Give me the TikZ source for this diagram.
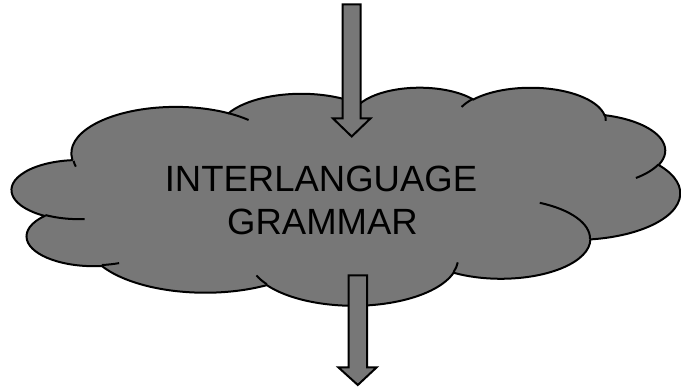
\documentclass[tikz,border=0pt]{standalone}
\usepackage{fontspec}
\setmainfont{Liberation Sans}
\definecolor{cloudgray}{RGB}{119,119,119}
% scale of the 432 x 432 cloud outline grid (units of 100) onto the drawing
\def\csx{1.546296}
\def\csy{0.504630}
\tikzset{
  outline/.style={draw=black, line width=2pt, line join=miter},
  cloudbody/.style={outline, fill=cloudgray},
  cloudfold/.style={draw=black, line width=2pt},
  blockarrow/.style={outline, fill=cloudgray},
  caption/.style={font=\fontsize{36.5}{43}\selectfont, anchor=base, inner sep=0pt},
  % elliptic arc: radii, start and sweep of the visual angle (grid y points down)
  cloud arc/.code n args={4}{%
    \pgfmathsetmacro\cloudrx{#1*\csx}%
    \pgfmathsetmacro\cloudry{#2*\csy}%
    \pgfmathsetmacro\cloudts{atan2(#1*sin(#3),#2*cos(#3))}%
    \pgfmathsetmacro\cloudte{atan2(#1*sin(#3+#4),#2*cos(#3+#4))}%
    \pgfmathsetmacro\cloudte{(\cloudte<\cloudts) ? (\cloudte+360) : \cloudte}%
    \pgfmathsetmacro\cloudts{-1*(\cloudts)}%
    \pgfmathsetmacro\cloudte{-1*(\cloudte)}%
    \edef\cloudtmp{\noexpand\pgfkeysalso{insert path={arc[x radius=\cloudrx pt, y radius=\cloudry pt, start angle=\cloudts, end angle=\cloudte]}}}%
    \cloudtmp
  },
}
\begin{document}
\begin{tikzpicture}[x=1pt,y=1pt]
\useasboundingbox (0,0) rectangle (681,390);

% cloud body and its inner folds
\begin{scope}[shift={(12pt,303pt)}, x=1.546296pt, y=-0.504630pt]
  \draw[cloudbody] (39.00,143.70)
    [cloud arc={67.53}{91.90}{-190.48748}{123.78053}]
    [cloud arc={53.33}{72.67}{-144.10238}{89.94523}]
    [cloud arc={43.65}{59.45}{-145.80792}{99.72302}]
    [cloud arc={48.57}{65.95}{-130.98607}{117.24173}]
    [cloud arc={53.33}{72.73}{-78.70888}{109.02692}]
    [cloud arc={67.75}{92.20}{-46.26725}{130.26900}]
    [cloud arc={57.85}{78.67}{0.62502}{114.03333}]
    [cloud arc={67.52}{92.15}{22.45160}{115.17255}]
    [cloud arc={77.20}{105.43}{66.24263}{75.71102}]
    [cloud arc={43.60}{59.18}{-274.94208}{146.73557}]
    [cloud arc={43.45}{59.45}{-246.82850}{152.51885}]
    -- cycle;
  \draw[cloudfold] (46.93,261.77) [cloud arc={43.45}{59.45}{86.7420}{26.4295}];
  \draw[cloudfold] (69.28,348.99) [cloud arc={43.60}{59.18}{73.6105}{11.4475}];
  \draw[cloudfold] (164.78,390.90) [cloud arc={67.52}{92.15}{137.6242}{14.0811}];
  \draw[cloudfold] (288.27,347.51) [cloud arc={67.52}{92.15}{6.4533}{15.9984}];
  \draw[cloudfold] (341.29,229.54) [cloud arc={57.85}{78.67}{-70.2924}{70.9174}];
  \draw[cloudfold] (417.98,153.54) [cloud arc={53.33}{72.73}{30.3180}{27.7515}];
  \draw[cloudfold] (383.24,54.26) [cloud arc={48.57}{65.95}{-13.7443}{14.8589}];
  \draw[cloudfold] (290.78,39.52) [cloud arc={48.57}{65.95}{-149.1815}{18.1954}];
  \draw[cloudfold] (221.41,47.20) [cloud arc={43.65}{59.45}{-163.4943}{17.6864}];
  \draw[cloudfold] (140.00,51.92) [cloud arc={67.53}{91.90}{-66.7070}{12.3194}];
  \draw[cloudfold] (41.27,157.89) [cloud arc={67.53}{91.90}{162.0468}{9.7443}];
\end{scope}

% incoming block arrow
\draw[blockarrow] (342.7,385.5) -- (360.7,385.5) -- (360.7,271.5) -- (370.4,271.5)
  -- (351.7,253.5) -- (333.0,271.5) -- (342.7,271.5) -- cycle;

% outgoing block arrow
\draw[blockarrow] (348.5,114.5) -- (367.0,114.5) -- (367.0,22.5) -- (376.5,22.5)
  -- (357.8,5.0) -- (338.5,22.5) -- (348.5,22.5) -- cycle;

% label
\node[caption] (line1) at (321,198) {INTERLANGUAGE};
\node[caption] (line2) at (322.5,155) {GRAMMAR};
\end{tikzpicture}
\end{document}
